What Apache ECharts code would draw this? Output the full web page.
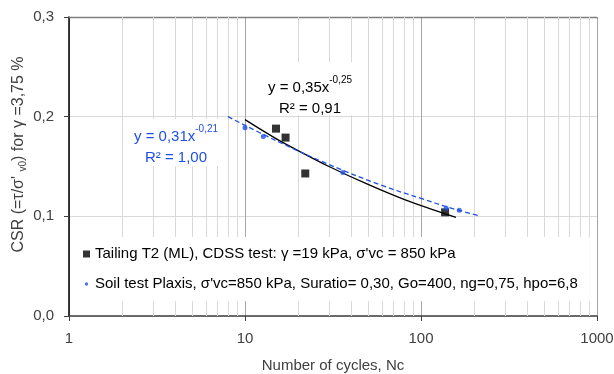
<!DOCTYPE html>
<html><head><meta charset="utf-8">
<script src="https://cdn.jsdelivr.net/npm/echarts@6/dist/echarts.min.js"></script>
<style>html,body{margin:0;padding:0;background:#fff}#c{width:614px;height:374px}</style>
</head><body><div id="c"></div>
<script>
// Measured data (Number of cycles Nc, CSR)
const tailingN = [15, 17, 22, 137];
const tailingCSR = [0.188, 0.179, 0.143, 0.104];
const plaxisN = [10, 12.7, 36, 139, 165];
const plaxisCSR = [0.189, 0.180, 0.144, 0.108, 0.106];
// Trendlines
const tailingTrendN = [10, 15, 20, 30, 50, 80, 120, 158];
const tailingTrendCSR = [0.197, 0.178, 0.166, 0.150, 0.132, 0.117, 0.106, 0.099];
const plaxisTrendN = [8, 15, 30, 60, 100, 150, 210];
const plaxisTrendCSR = [0.200, 0.176, 0.152, 0.131, 0.118, 0.108, 0.101];
// Axis ticks / gridlines
const xMinorGrid = [2,3,4,5,6,7,8,9,20,30,40,50,60,70,80,90,200,300,400,500,600,700,800,900];
const yMin = 0, yMax = 0.3, yStep = 0.1;
const xMin = 1, xMax = 1000;
const seriesNames = [
  "Tailing T2 (ML), CDSS test: γ =19 kPa, σ'vc = 850 kPa",
  "Soil test Plaxis, σ'vc=850 kPa, Suratio= 0,30, Go=400, ng=0,75, hpo=6,8"
];
const trendTexts = [
  ['y = 0,35x', '-0,25', 'R² = 0,91'],
  ['y = 0,31x', '-0,21', 'R² = 1,00']
];

const FONT = "'Liberation Sans', Arial, sans-serif";
const BLUE = '#1f50e6';
const zip = (a, b) => a.map((v, i) => [v, b[i]]);

const chart = echarts.init(document.getElementById('c'), null, {renderer: 'canvas'});
const supRich = (color) => ({
  a: {fontFamily: FONT, fontSize: 15, fill: color, lineHeight: 20, verticalAlign: 'bottom'},
  p: {fontFamily: FONT, fontSize: 10, fill: color, lineHeight: 12, verticalAlign: 'top'}
});

chart.setOption({
  animation: false,
  backgroundColor: '#fff',
  textStyle: {fontFamily: FONT},
  grid: {left: 69, right: 17, top: 17, bottom: 58, containLabel: false, outerBoundsMode: 'none'},
  xAxis: [{
    type: 'log', logBase: 10, min: xMin, max: xMax,
    name: 'Number of cycles, Nc', nameLocation: 'middle', nameGap: 42,
    nameTextStyle: {fontFamily: FONT, fontSize: 15, color: '#404040'},
    axisLine: {show: true, onZero: false, lineStyle: {color: '#404040', width: 1.5}},
    axisTick: {show: true, length: 5, lineStyle: {color: '#404040'}},
    axisLabel: {fontFamily: FONT, fontSize: 15, color: '#404040', margin: 15, formatter: v => String(Math.round(v))},
    splitLine: {show: true, lineStyle: {color: '#a6a6a6', width: 1}},
    minorTick: {show: false}, minorSplitLine: {show: false}
  }, {
    type: 'log', logBase: 10, min: xMin, max: xMax, position: 'top',
    axisLine: {show: true, onZero: false, lineStyle: {color: '#7f7f7f', width: 1.3}},
    axisTick: {show: false}, axisLabel: {show: false}, splitLine: {show: false}
  }],
  yAxis: {
    type: 'value', min: yMin, max: yMax, interval: yStep,
    name: "{a|CSR (=τ/σ' }{s|v0}{a|) for γ =3,75 %}", nameLocation: 'middle', nameGap: 41, nameRotate: 90,
    nameMoveOverlap: false,
    nameTextStyle: {
      padding: [0, 0, 0, 24],
      rich: {
        a: {fontFamily: FONT, fontSize: 16, color: '#404040', lineHeight: 18, verticalAlign: 'middle'},
        s: {fontFamily: FONT, fontSize: 10, color: '#404040', lineHeight: 12, verticalAlign: 'bottom'}
      }
    },
    axisLine: {show: true, onZero: false, lineStyle: {color: '#000', width: 1.5}},
    axisTick: {show: true, length: 5, lineStyle: {color: '#404040'}},
    axisLabel: {fontFamily: FONT, fontSize: 15, color: '#404040', margin: 15, formatter: v => v.toFixed(1).replace('.', ',')},
    splitLine: {show: true, lineStyle: {color: '#d9d9d9', width: 1}}
  },
  legend: {
    orient: 'vertical', left: 72, top: 237, z: 4,
    padding: [8, 12, 8, 11],
    backgroundColor: '#fff',
    itemWidth: 7, itemHeight: 7, itemGap: 12,
    textStyle: {fontFamily: FONT, fontSize: 15, color: '#000', lineHeight: 18},
    data: [
      {name: seriesNames[0], icon: 'rect'},
      {name: seriesNames[1], icon: 'path://M0 0L0 0M10 10L10 10M5 2.6A2.4 2.4 0 1 1 4.99 2.6Z'}
    ]
  },
  graphic: [
    {type: 'rect', z: 3, shape: {x: 263, y: 62, width: 94, height: 53}, style: {fill: '#fff'}, silent: true},
    {type: 'text', z: 4, x: 310, y: 85, style: {text: '{a|' + trendTexts[0][0] + '}{p|' + trendTexts[0][1] + '}', rich: supRich('#000'), align: 'center', verticalAlign: 'middle'}},
    {type: 'text', z: 4, x: 310, y: 106, style: {text: '{a|' + trendTexts[0][2] + '}', rich: supRich('#000'), align: 'center', verticalAlign: 'middle'}},
    {type: 'rect', z: 3, shape: {x: 128, y: 119, width: 98, height: 47}, style: {fill: '#fff'}, silent: true},
    {type: 'text', z: 4, x: 176, y: 134, style: {text: '{a|' + trendTexts[1][0] + '}{p|' + trendTexts[1][1] + '}', rich: supRich(BLUE), align: 'center', verticalAlign: 'middle'}},
    {type: 'text', z: 4, x: 176, y: 155, style: {text: '{a|' + trendTexts[1][2] + '}', rich: supRich(BLUE), align: 'center', verticalAlign: 'middle'}}
  ],
  series: [
    {
      type: 'line', name: 'minor-grid', data: [], z: 1, silent: true,
      markLine: {
        silent: true, z: 1, symbol: ['none', 'none'], label: {show: false}, animation: false,
        lineStyle: {color: '#d9d9d9', type: 'solid', width: 1},
        data: xMinorGrid.map(v => ({xAxis: v}))
      }
    },
    {
      type: 'line', name: 'trend-tailing', data: zip(tailingTrendN, tailingTrendCSR), smooth: 0.4,
      showSymbol: false, symbol: 'none', z: 5, silent: true,
      lineStyle: {color: '#000', width: 1.3}
    },
    {
      type: 'line', name: 'trend-plaxis', data: zip(plaxisTrendN, plaxisTrendCSR), smooth: 0.4,
      showSymbol: false, symbol: 'none', z: 5, silent: true,
      lineStyle: {color: BLUE, width: 1.3, type: [5, 3]}
    },
    {
      type: 'scatter', name: seriesNames[0], data: zip(tailingN, tailingCSR), z: 6,
      symbol: 'rect', symbolSize: 8, itemStyle: {color: '#000'}
    },
    {
      type: 'scatter', name: seriesNames[1], data: zip(plaxisN, plaxisCSR), z: 7,
      symbol: 'circle', symbolSize: 5, itemStyle: {color: BLUE}
    }
  ]
});
</script>
</body></html>
